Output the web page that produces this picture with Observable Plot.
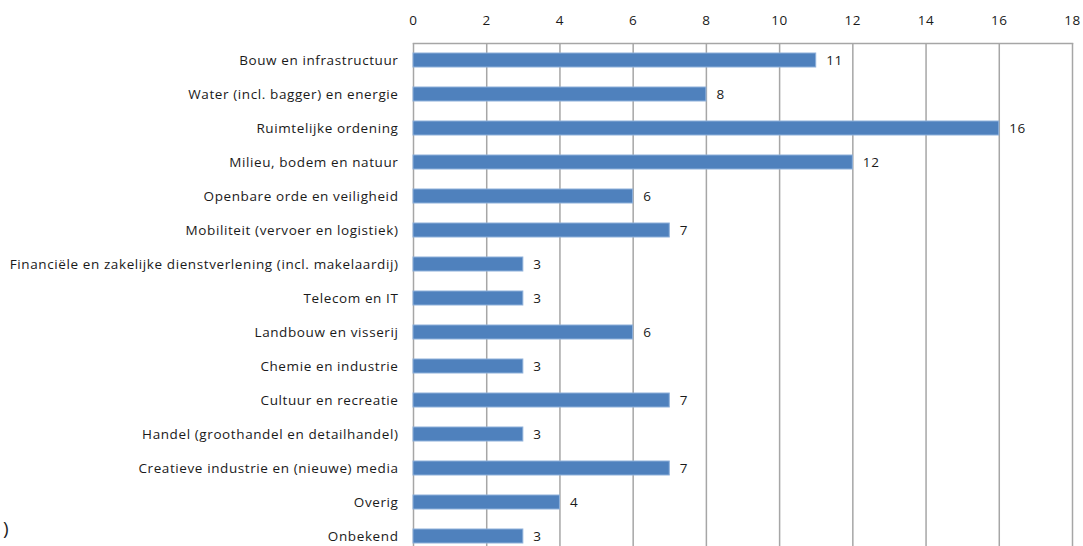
<!DOCTYPE html>
<html>
<head>
<meta charset="utf-8">
<script src="https://cdn.jsdelivr.net/npm/d3@7"></script>
<script src="https://cdn.jsdelivr.net/npm/@observablehq/plot@0.6"></script>
<style>
  html, body { margin: 0; padding: 0; background: #fff; overflow: hidden; }
  #wrap { position: relative; width: 1083px; height: 546px; overflow: hidden; }
  #paren { position: absolute; left: 3px; top: 516px; font: 19px "Open Sans", sans-serif; color: #222; line-height: 24px; }
  svg text { letter-spacing: 0.6px; }
</style>
</head>
<body>
<div id="wrap"><div id="chart"></div><div id="paren">)</div></div>
<script>
const categories = [
  "Bouw en infrastructuur",
  "Water (incl. bagger) en energie",
  "Ruimtelijke ordening",
  "Milieu, bodem en natuur",
  "Openbare orde en veiligheid",
  "Mobiliteit (vervoer en logistiek)",
  "Financiële en zakelijke dienstverlening (incl. makelaardij)",
  "Telecom en IT",
  "Landbouw en visserij",
  "Chemie en industrie",
  "Cultuur en recreatie",
  "Handel (groothandel en detailhandel)",
  "Creatieve industrie en (nieuwe) media",
  "Overig",
  "Onbekend"
];
const values = [11, 8, 16, 12, 6, 7, 3, 3, 6, 3, 7, 3, 7, 4, 3];
const xTicks = [0, 2, 4, 6, 8, 10, 12, 14, 16, 18];

const data = categories.map((c, i) => ({category: c, value: values[i]}));

const chart = Plot.plot({
  width: 1083,
  height: 553,
  marginLeft: 413,
  marginRight: 11,
  marginTop: 43,
  marginBottom: 0,
  style: {fontFamily: "'Open Sans', sans-serif", fontSize: "13.5px", color: "#1a1a1a", background: "#fff"},
  x: {domain: [0, 18], ticks: xTicks, axis: null},
  y: {domain: categories, padding: 0, axis: null},
  marks: [
    Plot.ruleX(xTicks, {stroke: "#a6a6a6", strokeWidth: 1.5}),
    Plot.frame({anchor: "top", stroke: "#a6a6a6", strokeWidth: 1.5}),
    Plot.axisX({anchor: "top", ticks: xTicks, tickSize: 0, tickPadding: 19, label: null, fontSize: 13.5}),
    Plot.axisY({anchor: "left", tickSize: 0, tickPadding: 15, label: null, fontSize: 13.5}),
    Plot.barX(data, {x: "value", y: "category", fill: "#4f81bd", stroke: "#8eb0da", strokeWidth: 1, insetTop: 10, insetBottom: 10}),
    Plot.text(data, {x: "value", y: "category", text: d => String(d.value), textAnchor: "start", dx: 10, fontSize: 13.5, fill: "#1a1a1a"})
  ]
});
document.getElementById("chart").appendChild(chart);
</script>
</body>
</html>
